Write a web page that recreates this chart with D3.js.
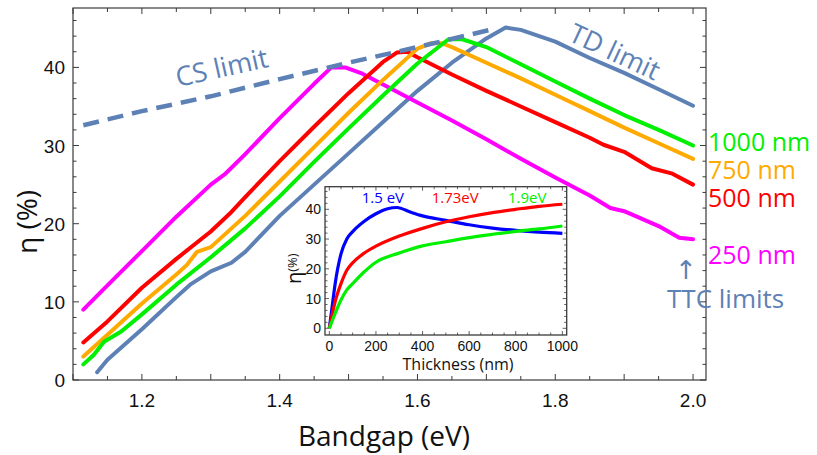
<!DOCTYPE html>
<html><head><meta charset="utf-8">
<script src="https://cdn.jsdelivr.net/npm/d3@7"></script>
<style>body{margin:0;background:#fff}svg{display:block}</style>
</head><body>
<svg id="c" width="817" height="455"></svg>
<script>
// ---------- Main chart data (bandgap in eV, efficiency in %) ----------
const gap250 = [1.115,1.15,1.2,1.25,1.3,1.32,1.35,1.4,1.45,1.475,1.495,1.52,1.55,1.6,1.65,1.7,1.75,1.8,1.85,1.88,1.9,1.95,1.98,2.0];
const eff250 = [9.0,12.1,16.5,20.9,25.0,26.3,28.9,33.5,37.9,40.0,40.0,39.2,37.8,35.5,33.2,30.8,28.3,25.9,23.6,22.0,21.6,19.7,18.2,18.0];
const gap500 = [1.115,1.15,1.2,1.25,1.3,1.33,1.35,1.4,1.45,1.5,1.55,1.57,1.585,1.6,1.65,1.7,1.75,1.8,1.85,1.87,1.9,1.94,1.97,2.0];
const eff500 = [4.8,7.5,11.8,15.5,19.0,21.5,23.4,28.0,32.4,36.7,40.7,41.9,42.0,41.3,39.1,37.0,35.0,33.0,31.0,30.1,29.2,27.1,26.4,25.0];
const gap750 = [1.115,1.15,1.2,1.25,1.265,1.28,1.3,1.35,1.4,1.45,1.5,1.55,1.6,1.62,1.635,1.65,1.7,1.75,1.8,1.85,1.9,1.95,2.0];
const eff750 = [3.0,5.8,9.8,13.5,14.7,16.4,17.0,21.0,25.4,29.8,34.2,38.4,42.4,43.1,43.1,42.6,40.6,38.6,36.5,34.4,32.3,30.3,28.3];
const gap1000 = [1.115,1.13,1.145,1.17,1.2,1.25,1.3,1.35,1.4,1.45,1.5,1.55,1.6,1.645,1.665,1.7,1.75,1.8,1.85,1.9,1.95,2.0];
const eff1000 = [2.0,3.2,4.9,6.2,8.4,12.2,15.7,19.4,23.5,27.9,32.2,36.4,40.5,43.6,43.6,42.6,40.4,38.2,36.0,33.9,32.0,30.0];
const gapTD = [1.135,1.15,1.2,1.25,1.27,1.3,1.33,1.35,1.4,1.45,1.5,1.55,1.6,1.65,1.7,1.728,1.75,1.8,1.85,1.9,1.95,2.0];
const effTD = [1.0,2.6,6.5,10.6,12.2,13.9,15.0,16.4,21.0,25.0,29.0,33.0,37.0,40.6,43.7,45.1,44.8,43.3,41.2,39.3,37.2,35.1];
const gapCS = [1.115,1.2,1.3,1.4,1.5,1.6,1.715];
const effCS = [32.6,34.4,36.3,38.5,40.6,42.6,45.0];
const xTickLabels = [1.2,1.4,1.6,1.8,2.0];
const yTickLabels = [0,10,20,30,40];
const seriesNames = ["1000 nm","750 nm","500 nm","250 nm"];

// ---------- Inset data (thickness in nm, efficiency in %) ----------
const thick15 = [0,10,25,50,75,100,150,200,250,290,350,400,500,600,700,800,900,1000];
const eff15 = [0,6,15,25,30,32.5,36,38.5,40.2,40.6,39.0,37.8,36.3,34.8,33.7,32.9,32.3,31.9];
const thick173 = [0,25,50,75,100,150,200,300,400,500,600,700,800,900,1000];
const eff173 = [0,9,15,19.5,22,25.3,27.6,31.0,33.6,35.8,37.5,38.9,40.0,41.0,41.7];
const thick19 = [0,25,50,75,100,150,200,300,400,500,600,700,800,900,1000];
const eff19 = [0,5,9.5,12.9,15,19,22.2,25.3,27.7,29.1,30.5,31.6,32.6,33.4,34.4];
const insetXTicks = [0,200,400,600,800,1000];
const insetYTicks = [0,10,20,30,40];
const insetNames = ["1.5 eV","1.73eV","1.9eV"];

const C = {td:"#5e81b5", m:"#ff00ff", r:"#ff0000", o:"#ffaa00", g:"#00f000", frame:"#3a3a3a"};
const svg = d3.select("#c");
const TF = "'Liberation Sans', Arial, sans-serif";
const LF = "'Open Sans', sans-serif";

// ---------- Main scales ----------
const L=73, R=706, T=8, B=380;
const x = d3.scaleLinear().domain([1.1, 2.0188]).range([L, R]);
const y = d3.scaleLinear().domain([0, 47.6]).range([B, T]);

const frame = svg.append("g");
frame.append("rect").attr("x",L).attr("y",T).attr("width",R-L).attr("height",B-T)
  .attr("fill","none").attr("stroke",C.frame).attr("stroke-width",1.2);

const xMinor = d3.range(1.1, 2.0101, 0.05).map(d=>+d.toFixed(2));
const yMinor = d3.range(0, 47.01, 2);
const tk = frame.append("g").attr("stroke",C.frame).attr("stroke-width",1);
xMinor.forEach(v=>{
  const len = Math.abs(v*10-Math.round(v*10))<1e-6 ? 6 : 4;
  tk.append("line").attr("x1",x(v)).attr("x2",x(v)).attr("y1",B).attr("y2",B-len);
  tk.append("line").attr("x1",x(v)).attr("x2",x(v)).attr("y1",T).attr("y2",T+len);
});
yMinor.forEach(v=>{
  const len = v%10===0 ? 6 : 3.5;
  tk.append("line").attr("y1",y(v)).attr("y2",y(v)).attr("x1",L).attr("x2",L+len);
  tk.append("line").attr("y1",y(v)).attr("y2",y(v)).attr("x1",R).attr("x2",R-len);
});
frame.selectAll(".xl").data(xTickLabels).enter().append("text")
  .attr("x",d=>x(d)).attr("y",407).attr("text-anchor","middle")
  .attr("font-family",TF).attr("font-size",19).attr("fill","#111").text(d=>d.toFixed(1));
frame.selectAll(".yl").data(yTickLabels).enter().append("text")
  .attr("x",L-8).attr("y",d=>y(d)+7).attr("text-anchor","end")
  .attr("font-family",TF).attr("font-size",19).attr("fill","#111").text(d=>d);

svg.append("text").attr("x",384).attr("y",446).attr("text-anchor","middle")
  .attr("font-family",LF).attr("font-size",28).attr("fill","#111").text("Bandgap (eV)");
svg.append("text").attr("transform","translate(37,222) rotate(-90)").attr("text-anchor","middle")
  .attr("font-family",LF).attr("font-size",28).attr("fill","#111").text("η (%)");

// ---------- Main curves ----------
svg.append("clipPath").attr("id","clipMain").append("rect")
  .attr("x",L).attr("y",T).attr("width",R-L).attr("height",B-T);
const gm = svg.append("g").attr("clip-path","url(#clipMain)");
const line = d3.line().x(d=>x(d[0])).y(d=>y(d[1])).curve(d3.curveLinear);
function series(gaps, effs, color, dash){
  gm.append("path").attr("d", line(d3.zip(gaps, effs)))
    .attr("fill","none").attr("stroke",color).attr("stroke-width",dash?4.5:4)
    .attr("stroke-linejoin","round").attr("stroke-linecap", dash?"butt":"round")
    .attr("stroke-dasharray", dash||null);
}
series(gapTD, effTD, C.td);
series(gap250, eff250, C.m);
series(gap500, eff500, C.r);
series(gap750, eff750, C.o);
series(gap1000, eff1000, C.g);
series(gapCS, effCS, C.td, "16,9");

// ---------- Annotations ----------
svg.append("text").attr("transform","translate(178,87) rotate(-12.5)")
  .attr("font-family",LF).attr("font-size",27).attr("fill",C.td).text("CS limit");
svg.append("text").attr("transform","translate(567,40) rotate(25)")
  .attr("font-family",LF).attr("font-size",27).attr("fill",C.td).text("TD limit");
const labY = [151,179,207,264];
const labC = [C.g, C.o, C.r, C.m];
svg.selectAll(".sl").data(seriesNames).enter().append("text")
  .attr("x",708).attr("y",(d,i)=>labY[i]).attr("font-family",LF).attr("font-size",25)
  .attr("fill",(d,i)=>labC[i]).text(d=>d);
svg.append("text").attr("x",686).attr("y",279).attr("text-anchor","middle")
  .attr("font-family","'DejaVu Sans', sans-serif").attr("font-size",26).attr("fill",C.td).text("↑");
svg.append("text").attr("x",667).attr("y",308)
  .attr("font-family",LF).attr("font-size",26).attr("fill",C.td).text("TTC limits");

// ---------- Inset ----------
const iL=325, iR=566.7, iT=186.7, iB=335;
const ix = d3.scaleLinear().domain([-18.6, 1018.6]).range([iL, iR]);
const iy = d3.scaleLinear().domain([-2.25, 47.6]).range([iB, iT]);
const gi = svg.append("g");
gi.append("rect").attr("x",iL).attr("y",iT).attr("width",iR-iL).attr("height",iB-iT)
  .attr("fill","#fff").attr("stroke",C.frame).attr("stroke-width",1.3);
const itk = gi.append("g").attr("stroke",C.frame).attr("stroke-width",0.8);
d3.range(0,1001,50).forEach(v=>{
  const len = v%200===0 ? 4 : 2.5;
  itk.append("line").attr("x1",ix(v)).attr("x2",ix(v)).attr("y1",iB).attr("y2",iB-len);
  itk.append("line").attr("x1",ix(v)).attr("x2",ix(v)).attr("y1",iT).attr("y2",iT+len);
});
d3.range(0,47,2).forEach(v=>{
  const len = v%10===0 ? 4 : 2.5;
  itk.append("line").attr("y1",iy(v)).attr("y2",iy(v)).attr("x1",iL).attr("x2",iL+len);
  itk.append("line").attr("y1",iy(v)).attr("y2",iy(v)).attr("x1",iR).attr("x2",iR-len);
});
gi.selectAll(".ixl").data(insetXTicks).enter().append("text")
  .attr("x",d=>ix(d)).attr("y",351).attr("text-anchor","middle")
  .attr("font-family",TF).attr("font-size",14).attr("fill","#111").text(d=>d);
gi.selectAll(".iyl").data(insetYTicks).enter().append("text")
  .attr("x",iL-4).attr("y",d=>iy(d)+5).attr("text-anchor","end")
  .attr("font-family",TF).attr("font-size",14).attr("fill","#111").text(d=>d);
gi.append("text").attr("x",458).attr("y",370).attr("text-anchor","middle")
  .attr("font-family",LF).attr("font-size",16).attr("fill","#111").text("Thickness (nm)");
const iyl = gi.append("text").attr("transform","translate(301,284) rotate(-90)")
  .attr("font-family",LF).attr("fill","#111");
iyl.append("tspan").attr("font-size",20).text("η");
iyl.append("tspan").attr("font-size",13).attr("dy",-4).text("(%)");

svg.append("clipPath").attr("id","clipInset").append("rect")
  .attr("x",iL).attr("y",iT).attr("width",iR-iL).attr("height",iB-iT);
const gic = gi.append("g").attr("clip-path","url(#clipInset)");
const iline = d3.line().x(d=>ix(d[0])).y(d=>iy(d[1])).curve(d3.curveMonotoneX);
[[thick15,eff15,"#0000ff"],[thick173,eff173,"#ff0000"],[thick19,eff19,"#00f000"]].forEach(s=>{
  gic.append("path").attr("d", iline(d3.zip(s[0],s[1]))).attr("fill","none")
    .attr("stroke",s[2]).attr("stroke-width",3.2).attr("stroke-linejoin","round");
});
const inX = [361.7, 431.7, 508];
const inC = ["#0000ff","#ff0000","#00f000"];
gi.selectAll(".inl").data(insetNames).enter().append("text")
  .attr("x",(d,i)=>inX[i]).attr("y",203).attr("font-family",LF).attr("font-size",15)
  .attr("fill",(d,i)=>inC[i]).text(d=>d);
</script>
</body></html>
